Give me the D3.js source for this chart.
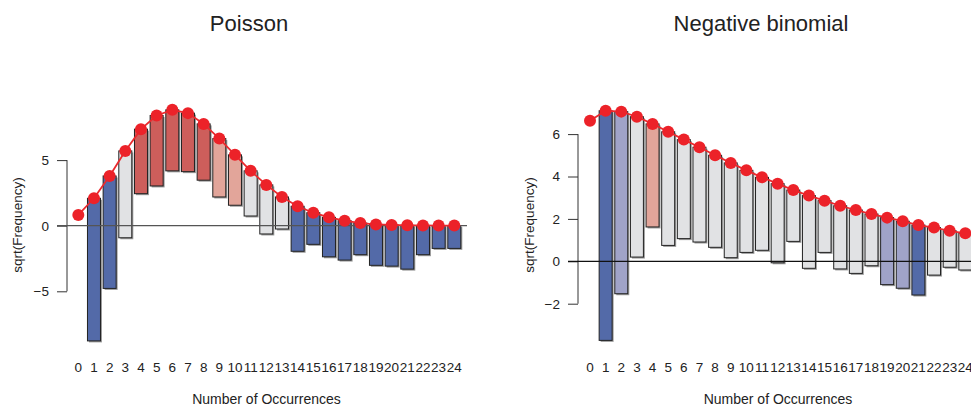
<!DOCTYPE html>
<html><head><meta charset="utf-8">
<script src="https://cdn.jsdelivr.net/npm/d3@7"></script>
<style>body{margin:0;background:#fff}svg{display:block}text{font-family:"Liberation Sans",Arial,sans-serif;fill:#222}</style>
</head><body>
<svg id="c" width="971" height="406"></svg>
<script>
const counts = d3.range(0, 25);
// Poisson: sqrt(expected) and bar bottoms (sqrt(expected) - sqrt(observed))
const poisExpected = [0.82,2.09,3.79,5.70,7.36,8.40,8.83,8.58,7.76,6.64,5.40,4.18,3.11,2.19,1.48,0.99,0.64,0.38,0.20,0.10,0.06,0.03,0.02,0.01,0.01];
const poisBottom   = [0.82,-8.78,-4.78,-0.92,2.44,3.03,4.18,4.12,3.47,2.19,1.56,0.74,-0.63,-0.25,-1.95,-1.42,-2.37,-2.62,-2.21,-3.02,-3.08,-3.31,-2.21,-1.73,-1.73];
const poisShade    = ["g","db","db","g","dr","dr","dr","dr","dr","lr","lr","g","g","g","db","db","db","db","db","db","db","db","db","db","db"];
// Negative binomial
const nbExpected = [6.63,7.10,7.06,6.82,6.48,6.11,5.74,5.38,5.00,4.64,4.29,3.96,3.66,3.36,3.10,2.86,2.62,2.42,2.23,2.06,1.89,1.71,1.59,1.44,1.32];
const nbBottom   = [6.63,-3.73,-1.53,0.20,1.62,0.75,1.07,0.91,0.66,0.17,0.42,0.52,-0.07,0.94,-0.33,0.42,-0.36,-0.57,-0.21,-1.10,-1.27,-1.59,-0.65,-0.28,-0.41];
const nbShade    = ["g","db","lb","g","lr","g","g","g","g","g","g","g","g","g","g","g","g","g","g","lb","lb","db","g","g","g"];
const poisTicks = [-5,0,5];
const nbTicks = [-2,0,2,4,6];

const colors = {db:"#536aa8", lb:"#a0a3c8", g:"#e1e2e4", lr:"#e2a59a", dr:"#cd5e5b"};
const svg = d3.select("#c");

function panel(o){
  const g = svg.append("g");
  const x = d3.scalePoint().domain(counts).range(o.xr);
  const y = d3.scaleLinear().domain(o.yd).range(o.yr);
  const bw = x.step()*0.83;
  const data = counts.map((c,i)=>({c, e:o.exp[i], b:o.bot[i], s:o.shade[i]}));
  // title
  g.append("text").attr("x",o.tx).attr("y",30.5).attr("text-anchor","middle").style("font-size","22px").text(o.title);
  // y axis
  const yA = g.append("g").attr("transform",`translate(${o.ax},0)`)
    .call(d3.axisLeft(y).tickValues(o.ticks).tickSize(10).tickPadding(8).tickFormat(d=>d<0?"\u2212"+(-d):d));
  yA.select(".domain").attr("d",`M0,${y(d3.min(o.ticks))}V${y(d3.max(o.ticks))}`).attr("stroke","#333");
  yA.selectAll(".tick line").attr("stroke","#333");
  yA.selectAll("text").style("font-size","13.5px").attr("fill","#222");
  g.append("text").attr("transform",`translate(${o.ylx},${o.yly}) rotate(-90)`).attr("text-anchor","middle").style("font-size","13.5px").text("sqrt(Frequency)");
  // x labels
  g.selectAll(".xl").data(counts).join("text").attr("x",d=>x(d)).attr("y",372).attr("text-anchor","middle").style("font-size","13.5px").text(d=>d);
  g.append("text").attr("x",o.xlx).attr("y",404).attr("text-anchor","middle").style("font-size","14px").text("Number of Occurrences");
  // bars (hanging)
  const bars = data.filter(d=>Math.abs(d.e-d.b)>0.001);
  g.selectAll(".sh").data(bars).join("rect")
    .attr("x",d=>x(d.c)-bw/2+1.5).attr("y",d=>y(d.e)+1.5).attr("width",bw).attr("height",d=>y(d.b)-y(d.e))
    .attr("fill","#8a8a8a").attr("opacity",0.85);
  g.selectAll(".bar").data(bars).join("rect")
    .attr("x",d=>x(d.c)-bw/2).attr("y",d=>y(d.e)).attr("width",bw).attr("height",d=>y(d.b)-y(d.e))
    .attr("fill",d=>colors[d.s]).attr("stroke","#222").attr("stroke-width",1);
  // zero line
  g.append("line").attr("x1",o.zx[0]).attr("x2",o.zx[1]).attr("y1",y(0)).attr("y2",y(0)).attr("stroke",o.zc).attr("stroke-width",1.2);
  // expected line + points
  g.append("path").datum(data).attr("fill","none").attr("stroke","#ea2a2e").attr("stroke-width",1.8)
    .attr("d",d3.line().x(d=>x(d.c)).y(d=>y(d.e)));
  g.selectAll(".pt").data(data).join("circle").attr("cx",d=>x(d.c)).attr("cy",d=>y(d.e)).attr("r",6).attr("fill","#ec2229");
}

panel({title:"Poisson", tx:249, xr:[78.3,454.3], yd:[-5,5], yr:[291.3,160.1], exp:poisExpected, bot:poisBottom, shade:poisShade,
  ticks:poisTicks, ax:67, ylx:22, yly:225, xlx:266.5, zx:[57,467], zc:"#555"});
panel({title:"Negative binomial", tx:761, xr:[590,965.3], yd:[-2,6], yr:[303.7,134.1], exp:nbExpected, bot:nbBottom, shade:nbShade,
  ticks:nbTicks, ax:578, ylx:534, yly:225, xlx:778, zx:[568,980], zc:"#111"});
</script>
</body></html>
